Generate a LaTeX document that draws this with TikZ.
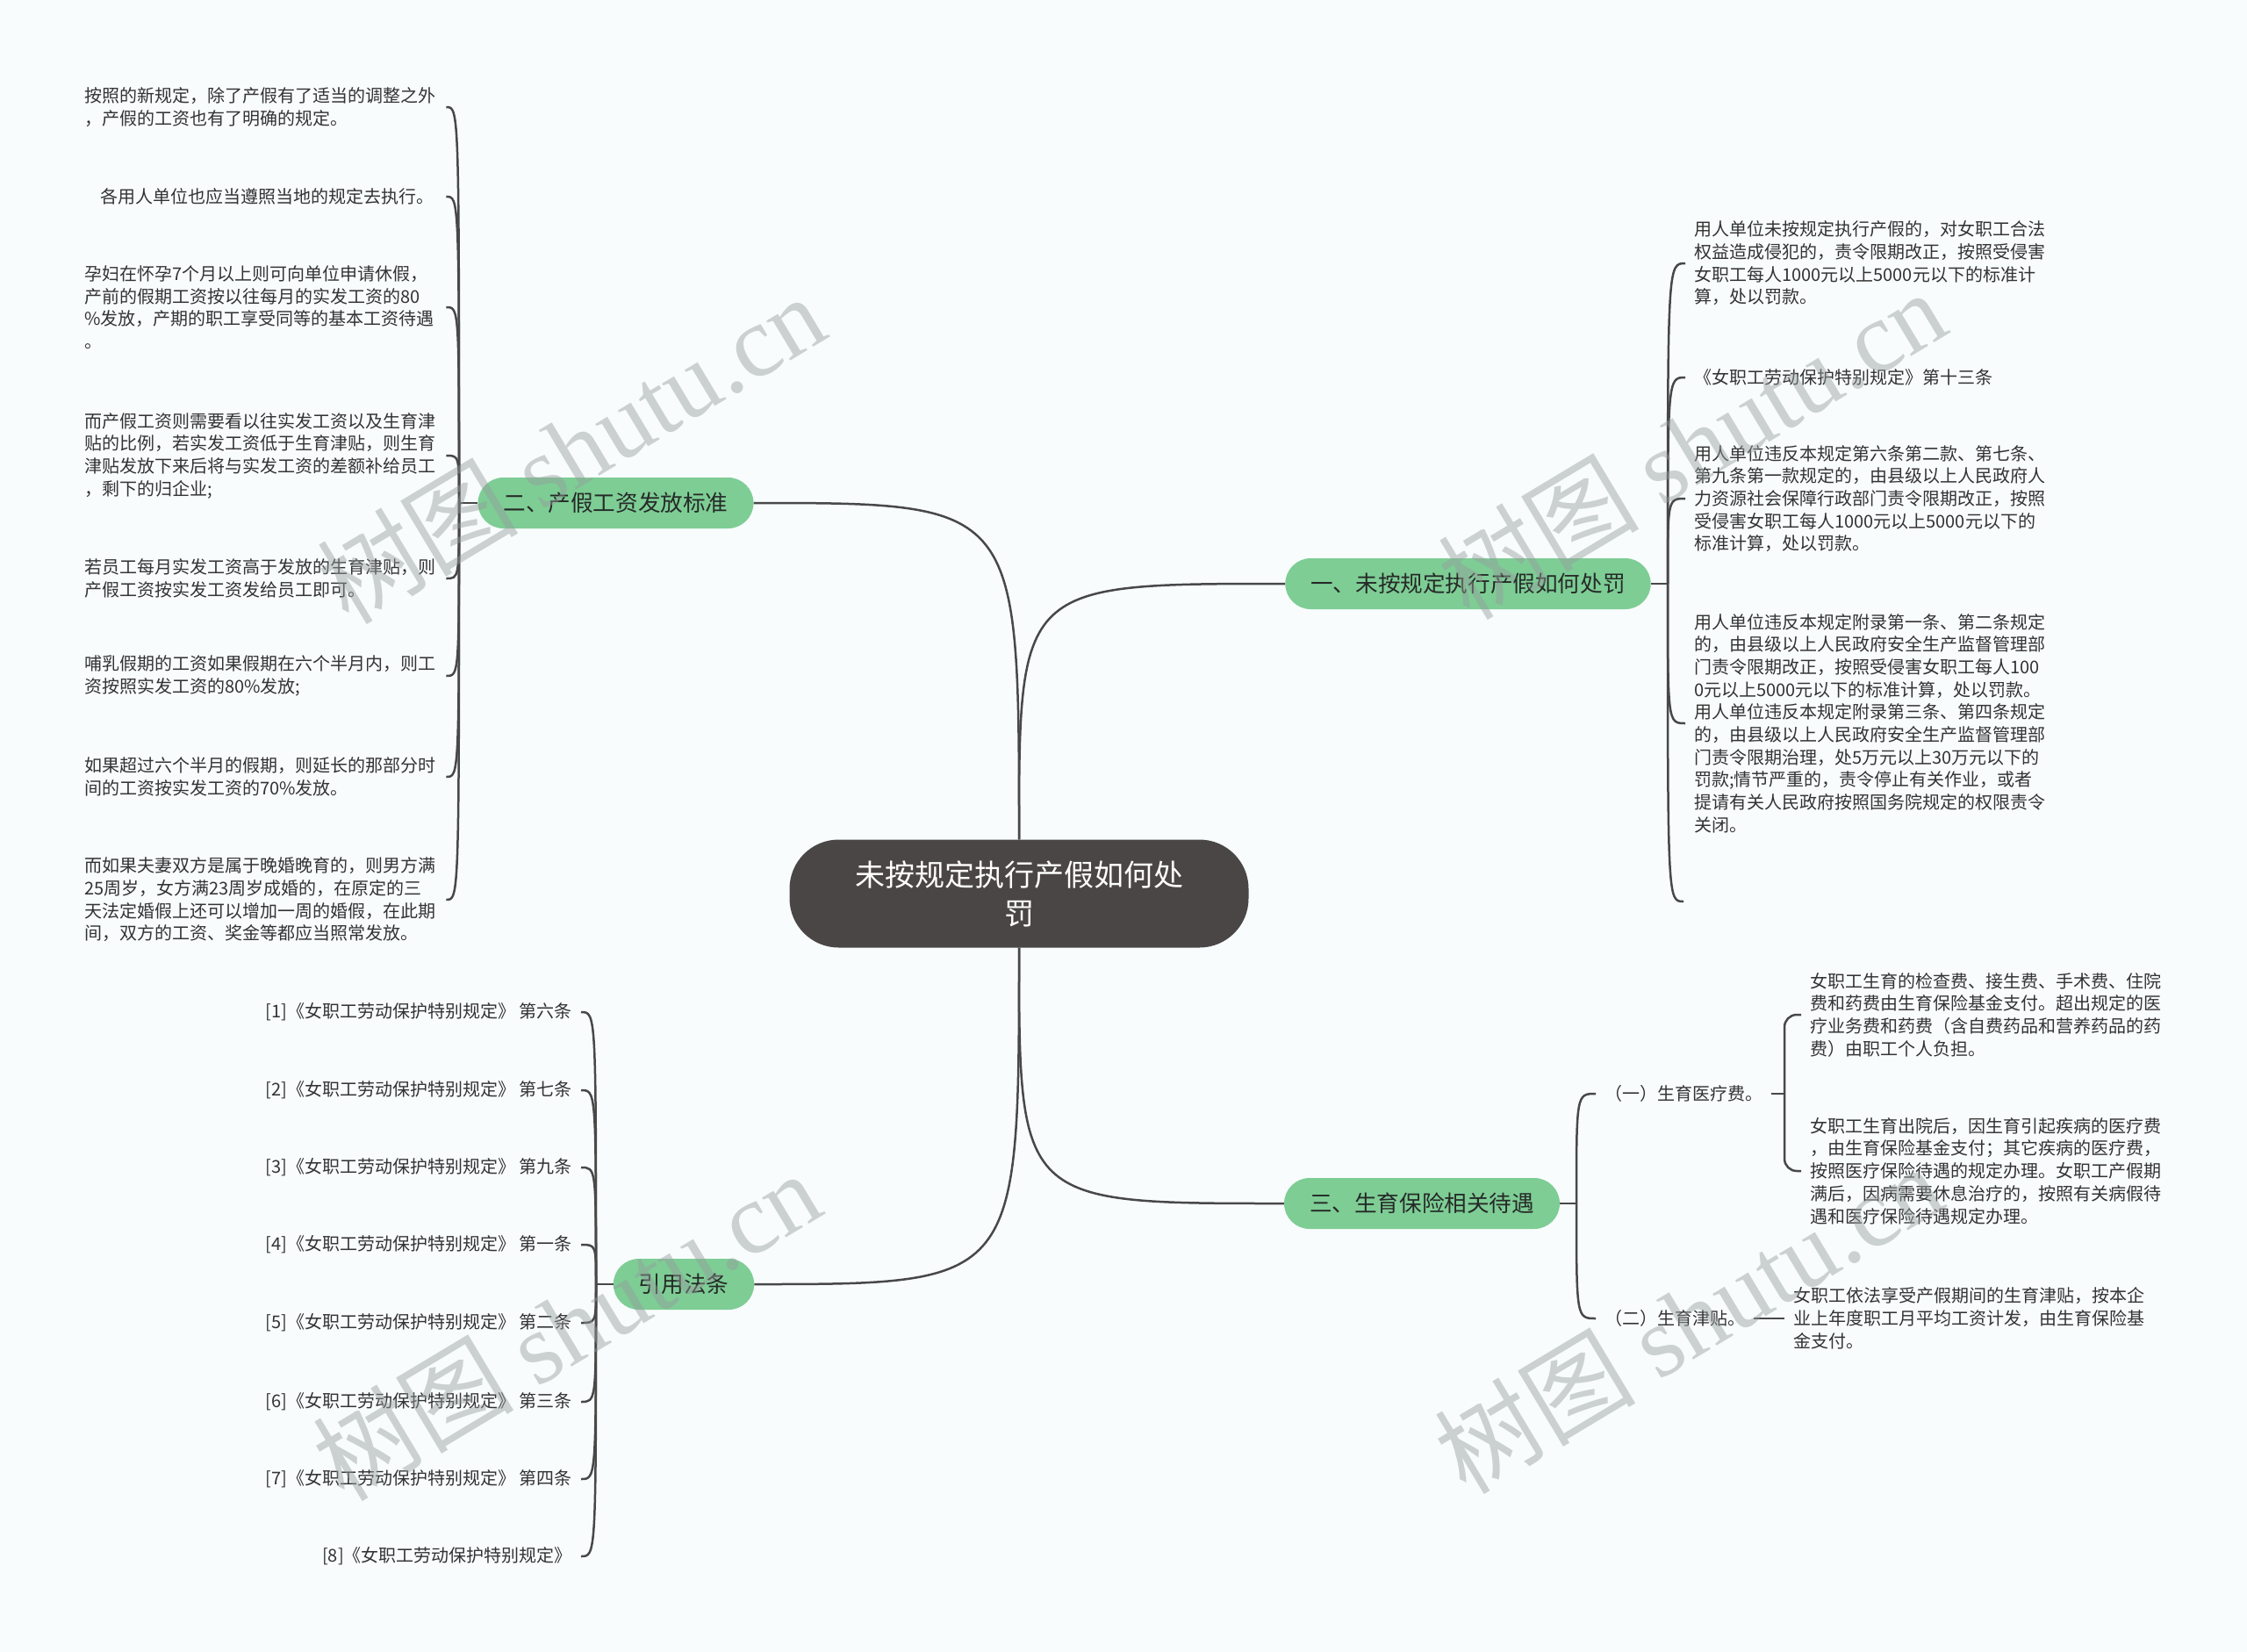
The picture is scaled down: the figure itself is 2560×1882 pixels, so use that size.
\documentclass[tikz,border=0pt]{standalone}
\usepackage{fontspec}
\setmainfont{Noto Sans CJK SC}
\newfontfamily\wmlatin{Liberation Serif}
\definecolor{bg}{RGB}{248,252,253}
\definecolor{lc}{RGB}{72,72,72}
\definecolor{tc}{RGB}{51,51,51}
\definecolor{gfill}{RGB}{126,205,149}
\definecolor{gtext}{RGB}{38,42,40}
\definecolor{cfill}{RGB}{75,70,70}
\definecolor{wmc}{RGB}{150,156,156}
\tikzset{
  conn/.style={draw=lc, line width=2.5pt},
  leaftext/.style={font=\fontsize{20}{25.7}\selectfont, text=tc, inner sep=10pt},
  leafbox/.style={leaftext, align=left, text width=402pt},
  branch/.style={fill=gfill, text=gtext, font=\fontsize{25.6}{30}\selectfont,
    rounded corners=29pt, minimum height=58pt, inner xsep=29pt, inner ysep=0pt},
  rootnode/.style={fill=cfill, text=white, font=\fontsize{34}{44}\selectfont,
    rounded corners=56pt, minimum width=523pt, minimum height=123pt, align=center},
  wmark/.style={text=wmc, text opacity=0.45, font=\fontsize{115}{115}\selectfont, rotate=31}
}
\begin{document}
\begin{tikzpicture}[x=1pt,y=-1pt]
\fill[bg] (0,0) rectangle (2560,1882);
\useasboundingbox (0,0) rectangle (2560,1882);

% root
\node[rootnode] (root) at (1161,1018) {未按规定执行产假如何处\\罚};

% branches
\node[branch] (b2) at (701.5,573) {二、产假工资发放标准};
\node[branch] (b1) at (1672.5,665) {一、未按规定执行产假如何处罚};
\node[branch] (b3) at (1620,1371) {三、生育保险相关待遇};
\node[branch] (b4) at (779,1463) {引用法条};

\draw[conn] (root.north) .. controls (root.north |- b2.east) .. (b2.east);
\draw[conn] (root.north) .. controls (root.north |- b1.west) .. (b1.west);
\draw[conn] (root.south) .. controls (root.south |- b4.east) .. (b4.east);
\draw[conn] (root.south) .. controls (root.south |- b3.west) .. (b3.west);

% left leaves (branch 2)
\node[leafbox, anchor=west] (l1) at (86,122) {按照的新规定，除了产假有了适当的调整之外\\，产假的工资也有了明确的规定。};
\node[leafbox, anchor=west] (l2) at (86,224) {\hspace*{18pt}各用人单位也应当遵照当地的规定去执行。};
\node[leafbox, anchor=west] (l3) at (86,350) {孕妇在怀孕7个月以上则可向单位申请休假，\\产前的假期工资按以往每月的实发工资的80\\\%发放，产期的职工享受同等的基本工资待遇\\。};
\node[leafbox, anchor=west] (l4) at (86,519) {而产假工资则需要看以往实发工资以及生育津\\贴的比例，若实发工资低于生育津贴，则生育\\津贴发放下来后将与实发工资的差额补给员工\\，剩下的归企业;};
\node[leafbox, anchor=west] (l5) at (86,659) {若员工每月实发工资高于发放的生育津贴，则\\产假工资按实发工资发给员工即可。};
\node[leafbox, anchor=west] (l6) at (86,770) {哺乳假期的工资如果假期在六个半月内，则工\\资按照实发工资的80\%发放;};
\node[leafbox, anchor=west] (l7) at (86,885) {如果超过六个半月的假期，则延长的那部分时\\间的工资按实发工资的70\%发放。};
\node[leafbox, anchor=west] (l8) at (86,1025) {而如果夫妻双方是属于晚婚晚育的，则男方满\\25周岁，女方满23周岁成婚的，在原定的三\\天法定婚假上还可以增加一周的婚假，在此期\\间，双方的工资、奖金等都应当照常发放。};

\coordinate (jL) at (523,573);
\draw[conn] (b2.west) -- (jL);
\foreach \n in {l1,l2,l3,l4,l5,l6,l7,l8}
  \draw[conn] (jL) .. controls (jL |- \n.east) .. (\n.east);

% right leaves (branch 1)
\node[leafbox, anchor=west] (r1) at (1920,300) {用人单位未按规定执行产假的，对女职工合法\\权益造成侵犯的，责令限期改正，按照受侵害\\女职工每人1000元以上5000元以下的标准计\\算，处以罚款。};
\node[leafbox, anchor=west] (r2) at (1920,430) {《女职工劳动保护特别规定》第十三条};
\node[leafbox, anchor=west] (r3) at (1920,568) {用人单位违反本规定第六条第二款、第七条、\\第九条第一款规定的，由县级以上人民政府人\\力资源社会保障行政部门责令限期改正，按照\\受侵害女职工每人1000元以上5000元以下的\\标准计算，处以罚款。};
\node[leafbox, anchor=west] (r4) at (1920,824) {用人单位违反本规定附录第一条、第二条规定\\的，由县级以上人民政府安全生产监督管理部\\门责令限期改正，按照受侵害女职工每人100\\0元以上5000元以下的标准计算，处以罚款。\\用人单位违反本规定附录第三条、第四条规定\\的，由县级以上人民政府安全生产监督管理部\\门责令限期治理，处5万元以上30万元以下的\\罚款;情节严重的，责令停止有关作业，或者\\提请有关人民政府按照国务院规定的权限责令\\关闭。};
\coordinate (r5) at (1918,1027);

\coordinate (jR) at (1900,665);
\draw[conn] (b1.east) -- (jR);
\foreach \n in {r1,r2,r3,r4}
  \draw[conn] (jR) .. controls (jR |- \n.west) .. (\n.west);
\draw[conn] (jR) .. controls (jR |- r5) .. (r5);

% branch 3
\node[leaftext, anchor=west] (sA) at (1818,1246) {（一）生育医疗费。};
\node[leaftext, anchor=west] (sB) at (1818,1502) {（二）生育津贴。};
\coordinate (j3) at (1796,1371);
\draw[conn] (b3.east) -- (j3);
\draw[conn] (j3) .. controls (j3 |- sA.west) .. (sA.west);
\draw[conn] (j3) .. controls (j3 |- sB.west) .. (sB.west);

\node[leafbox, anchor=west] (s1) at (2052,1156) {女职工生育的检查费、接生费、手术费、住院\\费和药费由生育保险基金支付。超出规定的医\\疗业务费和药费（含自费药品和营养药品的药\\费）由职工个人负担。};
\node[leafbox, anchor=west] (s2) at (2052,1334) {女职工生育出院后，因生育引起疾病的医疗费\\，由生育保险基金支付；其它疾病的医疗费，\\按照医疗保险待遇的规定办理。女职工产假期\\满后，因病需要休息治疗的，按照有关病假待\\遇和医疗保险待遇规定办理。};
\coordinate (jA) at (2033,1246);
\draw[conn] (sA.east) -- (jA);
\draw[conn, rounded corners=14pt] (jA) |- (s1.west);
\draw[conn, rounded corners=14pt] (jA) |- (s2.west);

\node[leafbox, anchor=west] (s3) at (2033,1502) {女职工依法享受产假期间的生育津贴，按本企\\业上年度职工月平均工资计发，由生育保险基\\金支付。};
\draw[conn] (sB.east) -- (s3.west);

% citations (branch 4)
\node[leaftext, anchor=east] (c1) at (662,1153) {[1]《女职工劳动保护特别规定》 第六条};
\node[leaftext, anchor=east] (c2) at (662,1242) {[2]《女职工劳动保护特别规定》 第七条};
\node[leaftext, anchor=east] (c3) at (662,1330) {[3]《女职工劳动保护特别规定》 第九条};
\node[leaftext, anchor=east] (c4) at (662,1418) {[4]《女职工劳动保护特别规定》 第一条};
\node[leaftext, anchor=east] (c5) at (662,1507) {[5]《女职工劳动保护特别规定》 第二条};
\node[leaftext, anchor=east] (c6) at (662,1597) {[6]《女职工劳动保护特别规定》 第三条};
\node[leaftext, anchor=east] (c7) at (662,1685) {[7]《女职工劳动保护特别规定》 第四条};
\node[leaftext, anchor=east] (c8) at (662,1773) {[8]《女职工劳动保护特别规定》};
\coordinate (jC) at (679,1463);
\draw[conn] (b4.west) -- (jC);
\foreach \n in {c1,c2,c3,c4,c5,c6,c7,c8}
  \draw[conn] (jC) .. controls (jC |- \n.east) .. (\n.east);

% watermarks
\node[wmark] (w1) at (650,511) {树图 {\wmlatin shutu.cn}};
\node[wmark] (w2) at (1927,506) {树图 {\wmlatin shutu.cn}};
\node[wmark] (w3) at (645,1510) {树图 {\wmlatin shutu.cn}};
\node[wmark] (w4) at (1923,1502) {树图 {\wmlatin shutu.cn}};
\end{tikzpicture}
\end{document}
